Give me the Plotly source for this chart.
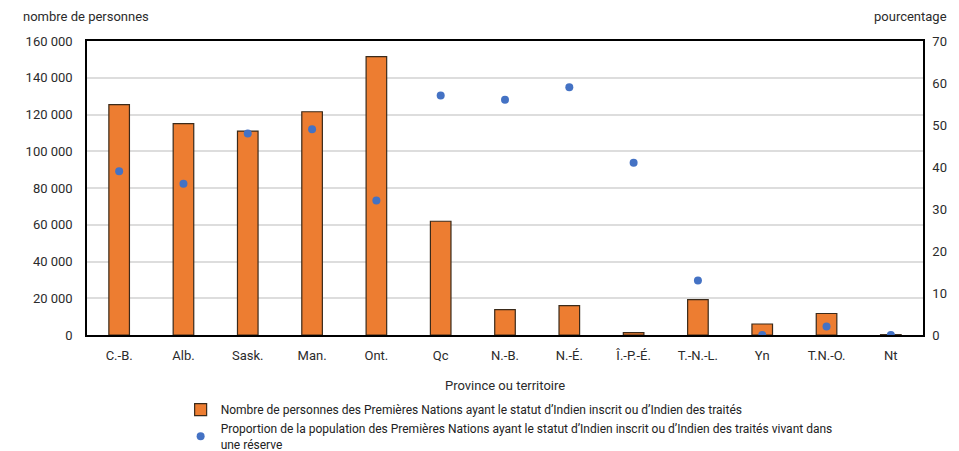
import plotly.graph_objects as go

# provinces et territoires
regions = ["C.-B.", "Alb.", "Sask.", "Man.", "Ont.", "Qc", "N.-B.", "N.-É.",
           "Î.-P.-É.", "T.-N.-L.", "Yn", "T.N.-O.", "Nt"]

# nombre de personnes (axe de gauche)
nombre = [125400, 115000, 111000, 121500, 151500, 61900, 13800, 16000,
          1300, 19300, 6000, 11700, 200]

# pourcentage vivant dans une réserve (axe de droite)
pourcentage = [39, 36, 48, 49, 32, 57, 56, 59, 41, 13, 0, 2, 0]

NOM_BARRES = "Nombre de personnes des Premières Nations ayant le statut d’Indien inscrit ou d’Indien des traités"
NOM_POINTS = ("Proportion de la population des Premières Nations ayant le statut d’Indien inscrit ou d’Indien des traités vivant dans"
              "<br>une réserve")

FONT = "Roboto, Arial, sans-serif"
TEXT_COLOR = "#2b2b2b"

fig = go.Figure()
fig.add_trace(go.Bar(x=regions, y=nombre, name=NOM_BARRES,
                     marker=dict(color="#ED7D31", line=dict(color="#3a2a1a", width=1.2)),
                     width=0.32, yaxis="y"))
fig.add_trace(go.Scatter(x=regions, y=pourcentage, name=NOM_POINTS, mode="markers",
                         marker=dict(color="#4472C4", size=8), yaxis="y2"))

fig.update_layout(
    width=959, height=451,
    margin=dict(l=87, r=36, t=41, b=116),
    paper_bgcolor="white", plot_bgcolor="white",
    separators=", ",
    font=dict(family=FONT, size=13, color=TEXT_COLOR),
    showlegend=True,
    # y in container coords so the legend doesn't push the plot area
    legend=dict(orientation="v", xref="paper", x=0.112, xanchor="left",
                yref="container", y=0.124, yanchor="top",
                font=dict(size=12, color="#222222"), itemwidth=30,
                tracegroupgap=0, bgcolor="rgba(0,0,0,0)"),
    xaxis=dict(range=[-0.5, len(regions) - 0.5],
               showline=True, linecolor="black", linewidth=1.5, mirror=True,
               ticks="", tickfont=dict(size=13), automargin=False,
               tickangle=0, ticklabelstandoff=8),
    yaxis=dict(range=[0, 160000], dtick=20000, tickformat=",d",
               showgrid=True, gridcolor="#dddddd", gridwidth=1.5,
               showline=True, linecolor="black", linewidth=1.5, mirror=True,
               zeroline=False, ticks="", tickfont=dict(size=13),
               automargin=False, ticklabelstandoff=10),
    yaxis2=dict(range=[0, 70], dtick=10, overlaying="y", side="right",
                showgrid=False, showline=True, linecolor="black", linewidth=1.5,
                zeroline=False, ticks="", tickfont=dict(size=13),
                automargin=False, ticklabelstandoff=5),
    bargap=0.5,
)

fig.add_annotation(text="nombre de personnes", xref="paper", yref="paper",
                   x=-0.079, y=1.05, xanchor="left", yanchor="bottom",
                   showarrow=False, font=dict(size=13))
fig.add_annotation(text="pourcentage", xref="paper", yref="paper",
                   x=1.031, y=1.05, xanchor="right", yanchor="bottom",
                   showarrow=False, font=dict(size=13))
fig.add_annotation(text="Province ou territoire", xref="paper", yref="paper",
                   x=0.5, y=-0.14, xanchor="center", yanchor="top",
                   showarrow=False, font=dict(size=13))

# default body margin would shift the whole figure by 8px
fig.write_html("out.html", config={"displayModeBar": False},
               post_script="document.body.style.margin='0';")
